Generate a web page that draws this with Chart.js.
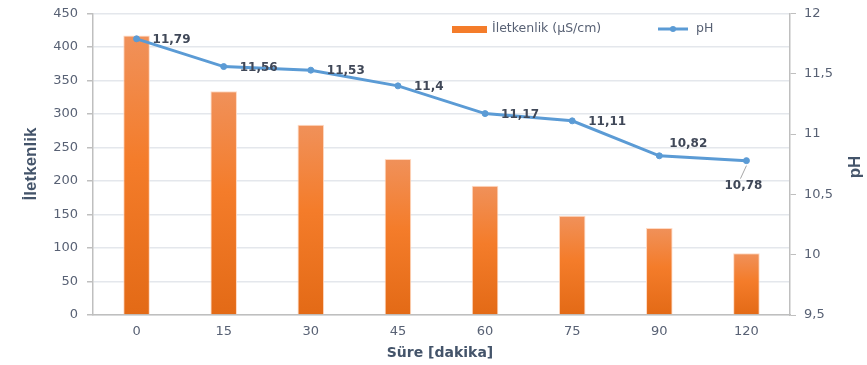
<!DOCTYPE html>
<html>
<head>
<meta charset="utf-8">
<script src="https://cdn.jsdelivr.net/npm/chart.js@4/dist/chart.umd.min.js"></script>
<style>
  html, body { margin: 0; padding: 0; background: #ffffff; }
  #wrap { width: 867px; height: 365px; position: relative; }
</style>
</head>
<body>
<div id="wrap"><canvas id="c" width="867" height="365"></canvas></div>
<script>
// Süre (dakika) kategorileri
const categories = ['0', '15', '30', '45', '60', '75', '90', '120'];
// İletkenlik (µS/cm)
const conductivity = [417, 334, 284, 233, 193, 148, 130, 92];
// pH değerleri
const phValues = [11.79, 11.56, 11.53, 11.4, 11.17, 11.11, 10.82, 10.78];
// Eksen sınırları
const leftTicks = { min: 0, max: 450, step: 50 };
const rightTicks = { min: 9.5, max: 12, step: 0.5 };

// Etiket yerleşimi (stil)
const labelPlacement = ['right', 'right', 'right', 'right', 'right', 'right', 'above', 'below'];

const FONT = "'DejaVu Sans', Verdana, sans-serif";
const TICK_COLOR = '#586174';
const TITLE_COLOR = '#44546a';
const LABEL_COLOR = '#404858';
const LINE_COLOR = '#5b9bd5';
const AXIS_COLOR = '#bfbfbf';
const GRID_COLOR = '#e4e7ec';

const fmt = v => String(v).replace('.', ',');

// Her sütun için ayrı dikey degrade
function barGradient(ctx) {
  const chart = ctx.chart;
  const area = chart.chartArea;
  if (!area || ctx.type !== 'data') return '#f47c2a';
  const ys = chart.scales.y;
  const top = ys.getPixelForValue(ctx.raw);
  const bottom = ys.getPixelForValue(0);
  const g = chart.ctx.createLinearGradient(0, top, 0, bottom);
  g.addColorStop(0, '#f0915a');
  g.addColorStop(0.45, '#f47c2a');
  g.addColorStop(1, '#e36a16');
  return g;
}

const extras = {
  id: 'extras',
  afterDatasetsDraw(chart) {
    const c = chart.ctx;
    const meta = chart.getDatasetMeta(1);
    c.save();
    // pH değer etiketleri
    c.font = 'bold 12px ' + FONT;
    c.fillStyle = LABEL_COLOR;
    c.textBaseline = 'middle';
    meta.data.forEach((pt, i) => {
      const txt = fmt(phValues[i]);
      const p = labelPlacement[i];
      if (p === 'right') {
        c.textAlign = 'left';
        c.fillText(txt, pt.x + 16, pt.y + 1);
      } else if (p === 'above') {
        c.textAlign = 'left';
        c.fillText(txt, pt.x + 10, pt.y - 12);
      } else {
        c.strokeStyle = '#a6a6a6';
        c.lineWidth = 1;
        c.beginPath();
        c.moveTo(pt.x, pt.y + 5);
        c.lineTo(pt.x - 6, pt.y + 18);
        c.stroke();
        c.textAlign = 'center';
        c.fillText(txt, pt.x - 3, pt.y + 25);
      }
    });
    c.restore();
  },
  afterDraw(chart) {
    const c = chart.ctx;
    c.save();
    // Lejant
    c.fillStyle = '#f47c2a';
    c.fillRect(452, 26, 35, 7);
    c.font = '12.5px ' + FONT;
    c.fillStyle = TICK_COLOR;
    c.textAlign = 'left';
    c.textBaseline = 'middle';
    c.fillText('İletkenlik (µS/cm)', 492, 29);
    c.strokeStyle = LINE_COLOR;
    c.lineWidth = 3;
    c.beginPath();
    c.moveTo(658, 29);
    c.lineTo(688, 29);
    c.stroke();
    c.fillStyle = LINE_COLOR;
    c.beginPath();
    c.arc(673, 29, 3, 0, Math.PI * 2);
    c.fill();
    c.fillStyle = TICK_COLOR;
    c.fillText('pH', 696, 29);

    // Eksen başlıkları
    c.fillStyle = TITLE_COLOR;
    c.font = "bold 17px 'Liberation Sans Narrow', 'Liberation Sans', sans-serif";
    c.textAlign = 'center';
    c.textBaseline = 'middle';
    c.save();
    c.translate(31, 164);
    c.rotate(-Math.PI / 2);
    c.fillText('İletkenlik', 0, 0);
    c.restore();
    c.save();
    c.translate(855, 167);
    c.rotate(-Math.PI / 2);
    c.fillText('pH', 0, 0);
    c.restore();
    c.font = 'bold 14px ' + FONT;
    c.fillText('Süre [dakika]', 440, 353);
    c.restore();
  }
};

new Chart(document.getElementById('c'), {
  data: {
    labels: categories,
    datasets: [
      {
        type: 'bar',
        label: 'İletkenlik (µS/cm)',
        data: conductivity,
        yAxisID: 'y',
        backgroundColor: barGradient,
        borderColor: 'rgba(255,214,190,0.9)',
        borderWidth: 1,
        borderSkipped: 'bottom',
        barPercentage: 0.305,
        categoryPercentage: 1.0,
        order: 2
      },
      {
        type: 'line',
        label: 'pH',
        data: phValues,
        yAxisID: 'y1',
        borderColor: LINE_COLOR,
        backgroundColor: LINE_COLOR,
        borderWidth: 3,
        pointRadius: 3,
        pointBackgroundColor: LINE_COLOR,
        pointBorderColor: LINE_COLOR,
        pointBorderWidth: 1,
        tension: 0,
        order: 1
      }
    ]
  },
  options: {
    responsive: false,
    animation: false,
    layout: { padding: { top: 13.5, right: 0, bottom: 0, left: 0 } },
    plugins: {
      legend: { display: false },
      tooltip: { enabled: false }
    },
    scales: {
      x: {
        offset: true,
        grid: { display: true, drawOnChartArea: false, drawTicks: false, color: AXIS_COLOR },
        border: { display: true, color: AXIS_COLOR, width: 1.5 },
        ticks: { color: TICK_COLOR, font: { family: FONT, size: 13 }, padding: 9, maxRotation: 0 },
        afterFit(s) { s.height = 50; }
      },
      y: {
        position: 'left',
        min: leftTicks.min,
        max: leftTicks.max,
        ticks: { stepSize: leftTicks.step, color: TICK_COLOR, font: { family: FONT, size: 13 }, padding: 9 },
        grid: { color: GRID_COLOR, lineWidth: 1.5, tickLength: 6, tickColor: AXIS_COLOR },
        border: { color: AXIS_COLOR, width: 1.5 },
        afterFit(s) { s.width = 93; s.paddingTop = 0; }
      },
      y1: {
        position: 'right',
        min: rightTicks.min,
        max: rightTicks.max,
        ticks: {
          stepSize: rightTicks.step,
          color: TICK_COLOR,
          font: { family: FONT, size: 13 },
          padding: 8,
          callback: v => fmt(v)
        },
        grid: { drawOnChartArea: false, tickLength: 6, color: AXIS_COLOR },
        border: { color: AXIS_COLOR, width: 1.5 },
        afterFit(s) { s.width = 77; s.paddingTop = 0; }
      }
    }
  },
  plugins: [extras]
});
</script>
</body>
</html>
